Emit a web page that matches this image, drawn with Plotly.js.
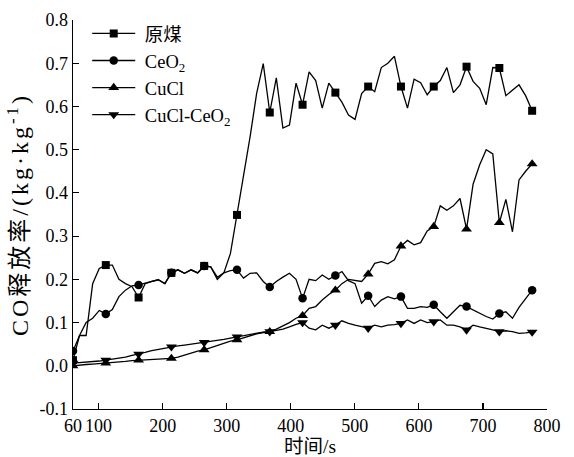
<!DOCTYPE html>
<html>
<head>
<meta charset="utf-8">
<script src="https://cdn.plot.ly/plotly-3.0.1.min.js"></script>
<style>html,body{margin:0;padding:0;background:#fff;}#chart{width:574px;height:457px;}
.ytitle{letter-spacing:3px;}</style>
</head>
<body>
<div id="chart"></div>
<script>
// time (s)
const time = [60.0,70.2,80.5,90.7,101.0,111.2,121.4,131.7,141.9,152.2,
  162.4,172.6,182.9,193.1,203.4,213.6,223.8,234.1,244.3,254.6,
  264.8,275.0,285.3,295.5,305.8,316.0,326.2,336.5,346.7,357.0,
  367.2,377.4,387.7,397.9,408.2,418.4,428.6,438.9,449.1,459.4,
  469.6,479.8,490.1,500.3,510.6,520.8,531.0,541.3,551.5,561.8,
  572.0,582.2,592.5,602.7,613.0,623.2,633.4,643.7,653.9,664.2,
  674.4,684.6,694.9,705.1,715.4,725.6,735.8,746.1,756.3,766.6,776.8];

// 原煤
const rawCoal = [0.013,0.070,0.070,0.190,0.225,0.233,0.233,0.200,0.190,0.183,
  0.158,0.190,0.195,0.199,0.190,0.215,0.222,0.214,0.222,0.215,
  0.231,0.229,0.205,0.215,0.260,0.349,0.440,0.530,0.630,0.699,
  0.586,0.666,0.550,0.557,0.654,0.604,0.680,0.660,0.596,0.654,
  0.632,0.610,0.580,0.570,0.630,0.646,0.634,0.690,0.700,0.716,
  0.646,0.596,0.663,0.655,0.627,0.646,0.660,0.690,0.632,0.650,
  0.692,0.658,0.642,0.604,0.690,0.689,0.625,0.638,0.650,0.625,0.590];

// CeO2
const ceo2 = [0.034,0.070,0.100,0.110,0.128,0.120,0.130,0.160,0.175,0.185,
  0.187,0.191,0.195,0.199,0.190,0.215,0.222,0.214,0.222,0.215,
  0.231,0.229,0.200,0.215,0.220,0.222,0.203,0.214,0.215,0.195,
  0.182,0.195,0.205,0.214,0.200,0.156,0.200,0.197,0.210,0.200,
  0.209,0.218,0.197,0.190,0.145,0.162,0.137,0.152,0.160,0.155,
  0.160,0.133,0.133,0.137,0.135,0.141,0.125,0.110,0.125,0.140,
  0.137,0.129,0.121,0.114,0.108,0.121,0.125,0.110,0.135,0.155,0.175];

// CuCl
const cucl = [0.000,0.002,0.003,0.004,0.005,0.006,0.008,0.009,0.010,0.012,
  0.013,0.014,0.015,0.015,0.016,0.017,0.020,0.025,0.030,0.034,
  0.037,0.042,0.048,0.053,0.057,0.060,0.065,0.070,0.074,0.077,
  0.079,0.085,0.092,0.100,0.110,0.116,0.133,0.137,0.152,0.165,
  0.175,0.190,0.200,0.197,0.195,0.212,0.237,0.241,0.236,0.245,
  0.277,0.290,0.280,0.285,0.312,0.322,0.370,0.360,0.370,0.387,
  0.316,0.420,0.465,0.500,0.490,0.331,0.385,0.310,0.430,0.450,0.467];

// CuCl-CeO2
const cuclCeo2 = [0.006,0.007,0.008,0.009,0.011,0.013,0.015,0.017,0.020,0.024,
  0.027,0.031,0.035,0.038,0.041,0.044,0.046,0.048,0.050,0.052,
  0.054,0.057,0.059,0.061,0.064,0.067,0.070,0.073,0.076,0.078,
  0.079,0.082,0.085,0.090,0.096,0.100,0.087,0.083,0.094,0.087,
  0.094,0.104,0.098,0.094,0.090,0.087,0.094,0.090,0.094,0.095,
  0.098,0.106,0.098,0.106,0.100,0.102,0.106,0.094,0.094,0.090,
  0.083,0.094,0.090,0.087,0.083,0.079,0.081,0.079,0.075,0.076,0.078];

const seriesNames = ['\u00A0原煤', '\u00A0CeO<sub>2</sub>', '\u00A0CuCl', '\u00A0CuCl-CeO<sub>2</sub>'];
const xTickVals = [60, 100, 200, 300, 400, 500, 600, 700, 800];
const yTickVals = [-0.1, 0.0, 0.1, 0.2, 0.3, 0.4, 0.5, 0.6, 0.7, 0.8];
const yTickText = ['-0.1', '0.0', '0.1', '0.2', '0.3', '0.4', '0.5', '0.6', '0.7', '0.8'];

const markerEvery = 5;
const series = [
  {y: ceo2, name: seriesNames[1], symbol: 'circle', size: 8.5},
  {y: rawCoal, name: seriesNames[0], symbol: 'square', size: 8},
  {y: cucl, name: seriesNames[2], symbol: 'triangle-up', size: 9.5},
  {y: cuclCeo2, name: seriesNames[3], symbol: 'triangle-down', size: 9.5}
];
const legendOrder = [1, 0, 2, 3];

const lineStyle = {color: '#000', width: 1.3};
const traces = [];
series.forEach(s => {
  traces.push({x: time, y: s.y, mode: 'lines', line: lineStyle, showlegend: false, hoverinfo: 'skip'});
});
series.forEach(s => {
  const idx = time.map((t, i) => i).filter(i => i % markerEvery === 0);
  traces.push({x: idx.map(i => time[i]), y: idx.map(i => s.y[i]), mode: 'markers',
    marker: {symbol: s.symbol, size: s.size, color: '#000', line: {width: 0}},
    showlegend: false, hoverinfo: 'skip'});
});
legendOrder.forEach(j => {
  const s = series[j];
  traces.push({x: [null], y: [null], mode: 'lines+markers', name: s.name, line: lineStyle,
    marker: {symbol: s.symbol, size: s.size, color: '#000'}, showlegend: true});
});

const serif = '"Liberation Serif", "Times New Roman", "Noto Sans CJK SC", serif';
const layout = {
  width: 574, height: 457,
  margin: {l: 73, r: 27, t: 20, b: 48},
  paper_bgcolor: '#fff', plot_bgcolor: '#fff',
  font: {family: serif, size: 18, color: '#000'},
  showlegend: true,
  legend: {x: 0.03, y: 1.013, xanchor: 'left', yanchor: 'top', itemwidth: 43,
    bgcolor: 'rgba(0,0,0,0)', borderwidth: 0, font: {family: serif, size: 18.5, color: '#000'}},
  xaxis: {range: [60, 800], tickvals: xTickVals, ticks: 'inside', ticklen: 6, tickwidth: 1.2,
    tickcolor: '#000', showline: true, linecolor: '#000', linewidth: 1.3, showgrid: false,
    zeroline: false, tickfont: {family: serif, size: 18},
    title: {text: '时间/s', font: {family: serif, size: 19.5}, standoff: 2}},
  yaxis: {range: [-0.1, 0.8], tickvals: yTickVals, ticktext: yTickText, ticks: 'inside', ticklen: 6,
    tickwidth: 1.2, tickcolor: '#000', showline: true, linecolor: '#000', linewidth: 1.3,
    showgrid: false, zeroline: false, tickfont: {family: serif, size: 18},
    title: {text: 'CO释放率/(kg·kg<sup>-1</sup>)', font: {family: serif, size: 24}, standoff: 4}}
};
Plotly.newPlot('chart', traces, layout, {displayModeBar: false, staticPlot: true});
</script>
</body>
</html>
